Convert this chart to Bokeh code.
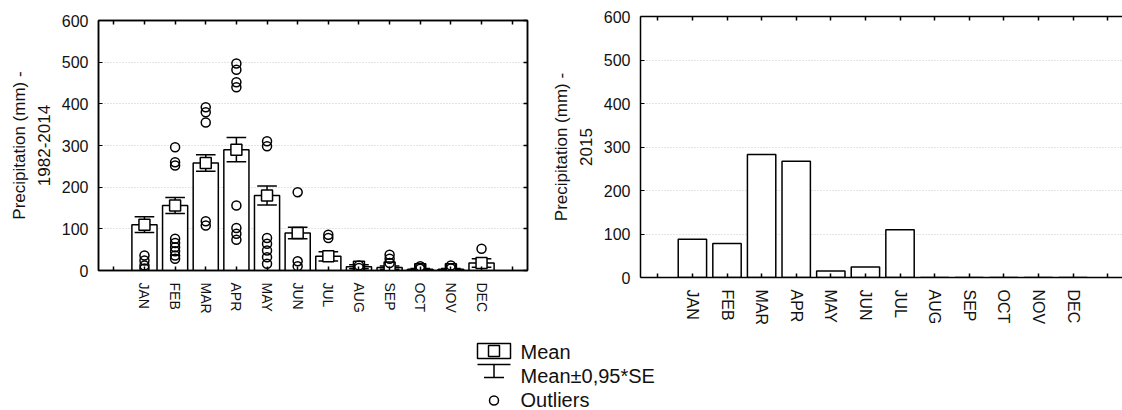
import numpy as np
from bokeh.plotting import figure
from bokeh.layouts import column, row
from bokeh.models import Range1d, FixedTicker, LinearAxis, ColumnDataSource
from bokeh.core.properties import value
from bokeh.embed import file_html
from bokeh.resources import INLINE

# ---------------- data ----------------
months = ["JAN", "FEB", "MAR", "APR", "MAY", "JUN", "JUL", "AUG", "SEP", "OCT", "NOV", "DEC"]
mean_1982_2014 = [110, 156, 258, 290, 180, 90, 34, 9, 7, 3, 3, 18]
half_ci_1982_2014 = [19, 19, 20, 29, 23, 14, 11, 5, 4, 2, 2, 10]
outlier_month = (["JAN"] * 4 + ["FEB"] * 9 + ["MAR"] * 5 + ["APR"] * 8 + ["MAY"] * 7
                 + ["JUN"] * 3 + ["JUL"] * 2 + ["AUG"] * 2 + ["SEP"] * 3 + ["OCT"] * 2
                 + ["NOV"] * 2 + ["DEC"] * 1)
outlier_value = ([36, 24, 12, 5,
                  296, 260, 252, 76, 66, 56, 46, 36, 28,
                  392, 380, 355, 118, 108,
                  497, 482, 452, 440, 156, 102, 88, 74,
                  310, 298, 78, 64, 48, 32, 16,
                  188, 22, 10,
                  86, 78,
                  12, 6,
                  38, 28, 18,
                  10, 4,
                  12, 5,
                  52])
precip_2015 = [88, 78, 283, 267, 15, 24, 110, 0, 0, 0, 0, 0]
y_ticks = [0, 100, 200, 300, 400, 500, 600]

FONT = "Liberation Sans"
xs = list(range(1, len(months) + 1))
pos = {m: i + 1 for i, m in enumerate(months)}
tick_pos = list(range(0, len(months) + 2))
label_over = {0: "", len(months) + 1: ""}
label_over.update({i + 1: m for i, m in enumerate(months)})
blank_over = {t: "" for t in tick_pos}
blank_over_y = {t: "" for t in y_ticks}


def style_frame(p, xlab_size, ylabel, with_right=True):
    p.xgrid.visible = False
    p.ygrid.ticker = FixedTicker(ticks=[100, 200, 300, 400, 500])
    p.ygrid.grid_line_color = "#c8c8c8"
    p.ygrid.grid_line_dash = "1 2"
    p.ygrid.grid_line_width = 1

    xa = p.xaxis[0]
    xa.ticker = FixedTicker(ticks=tick_pos)
    xa.major_label_overrides = label_over
    xa.major_label_orientation = "vertical"
    xa.major_label_text_font = FONT
    xa.major_label_text_font_size = xlab_size
    xa.major_label_text_color = "#111111"
    xa.major_label_standoff = 12
    xa.major_tick_in = 4
    xa.major_tick_out = 0
    xa.minor_tick_line_color = None
    xa.axis_line_width = 1.5
    xa.major_tick_line_width = 1.5

    ya = p.yaxis[0]
    ya.ticker = FixedTicker(ticks=y_ticks)
    ya.major_label_text_font = FONT
    ya.major_label_text_font_size = "16px"
    ya.major_label_text_color = "#111111"
    ya.major_label_standoff = 10
    ya.major_tick_in = 4
    ya.major_tick_out = 0
    ya.minor_tick_line_color = None
    ya.axis_line_width = 1.5
    ya.axis_label = ylabel
    ya.axis_label_text_font = FONT
    ya.axis_label_text_font_size = "17px"
    ya.axis_label_text_font_style = "normal"
    ya.axis_label_text_color = "#111111"
    ya.axis_label_text_line_height = 1.3
    ya.axis_label_standoff = 5

    top = LinearAxis(ticker=FixedTicker(ticks=tick_pos), major_label_overrides=blank_over,
                     major_tick_in=4, major_tick_out=0, minor_tick_line_color=None,
                     axis_line_width=1.5, major_tick_line_width=1.5,
                     major_label_text_font_size="0px", major_label_standoff=0,
                     axis_label_standoff=0)
    p.add_layout(top, "above")
    if with_right:
        right = LinearAxis(ticker=FixedTicker(ticks=y_ticks), major_label_overrides=blank_over_y,
                           major_tick_in=4, major_tick_out=0, minor_tick_line_color=None,
                           axis_line_width=1.5, major_tick_line_width=1.5,
                           major_label_text_font_size="0px", major_label_standoff=0,
                           axis_label_standoff=0)
        p.add_layout(right, "right")


# ---------------- left chart ----------------
p1 = figure(width=545, height=330, x_range=Range1d(-0.5, 13.5), y_range=Range1d(0, 600),
            output_backend="svg", toolbar_location=None,
            min_border_left=98, min_border_right=18, min_border_top=20, min_border_bottom=60)
p1.outline_line_color = "black"
p1.outline_line_width = 1.5
style_frame(p1, "14px", "Precipitation (mm) -\n1982-2014")

src = ColumnDataSource(dict(
    x=xs, mean=mean_1982_2014,
    upper=[m + e for m, e in zip(mean_1982_2014, half_ci_1982_2014)],
    lower=[m - e for m, e in zip(mean_1982_2014, half_ci_1982_2014)],
    x0=[x - 0.32 for x in xs], x1=[x + 0.32 for x in xs],
))
p1.vbar(x="x", top="mean", width=0.82, source=src, fill_color="white",
        line_color="black", line_width=1.5)
p1.segment(x0="x", y0="lower", x1="x", y1="upper", source=src, line_color="black", line_width=1.5)
p1.segment(x0="x0", y0="upper", x1="x1", y1="upper", source=src, line_color="black", line_width=1.5)
p1.segment(x0="x0", y0="lower", x1="x1", y1="lower", source=src, line_color="black", line_width=1.5)
p1.scatter(x="x", y="mean", source=src, marker="square", size=11, fill_color="white",
           line_color="black", line_width=1.5)
p1.scatter(x=[pos[m] for m in outlier_month], y=outlier_value, marker="circle", size=9,
           fill_color=None, line_color="black", line_width=1.5)

# ---------------- right chart ----------------
p2 = figure(width=577, height=330, x_range=Range1d(-0.5, 13.43), y_range=Range1d(0, 600),
            output_backend="svg", toolbar_location=None,
            min_border_left=95, min_border_right=0, min_border_top=16, min_border_bottom=53)
p2.outline_line_color = None
style_frame(p2, "16px", "Precipitation (mm) -\n2015", with_right=False)
p2.vbar(x=xs, top=precip_2015, width=0.82, fill_color="white", line_color="black", line_width=1.5)

# ---------------- legend ----------------
p3 = figure(width=1122, height=80, x_range=Range1d(0, 1122), y_range=Range1d(0, 80),
            output_backend="svg", toolbar_location=None, x_axis_type=None, y_axis_type=None,
            min_border=0)
p3.outline_line_color = None
p3.grid.visible = False
LX = 493.5
p3.rect(x=[LX], y=[59.5], width=33, height=15, fill_color="white", line_color="black", line_width=1.5)
p3.scatter(x=[LX], y=[59.5], marker="square", size=11, fill_color="white", line_color="black", line_width=1.5)
p3.segment(x0=[LX - 16.5, LX, LX - 10], y0=[46, 46, 33], x1=[LX + 16.5, LX, LX + 10], y1=[46, 33, 33],
           line_color="black", line_width=1.5)
p3.scatter(x=[LX], y=[10], marker="circle", size=9, fill_color=None, line_color="black", line_width=1.5)
p3.text(x=[520, 520, 520], y=[59, 35, 11], text=["Mean", "Mean±0,95*SE", "Outliers"],
        text_baseline="middle", text_align="left", text_font=value(FONT),
        text_font_size="20px", text_color="#111111")

layout = column(row(column(p1), column(p2)), p3)
open("out.html", "w").write(file_html(layout, INLINE))
